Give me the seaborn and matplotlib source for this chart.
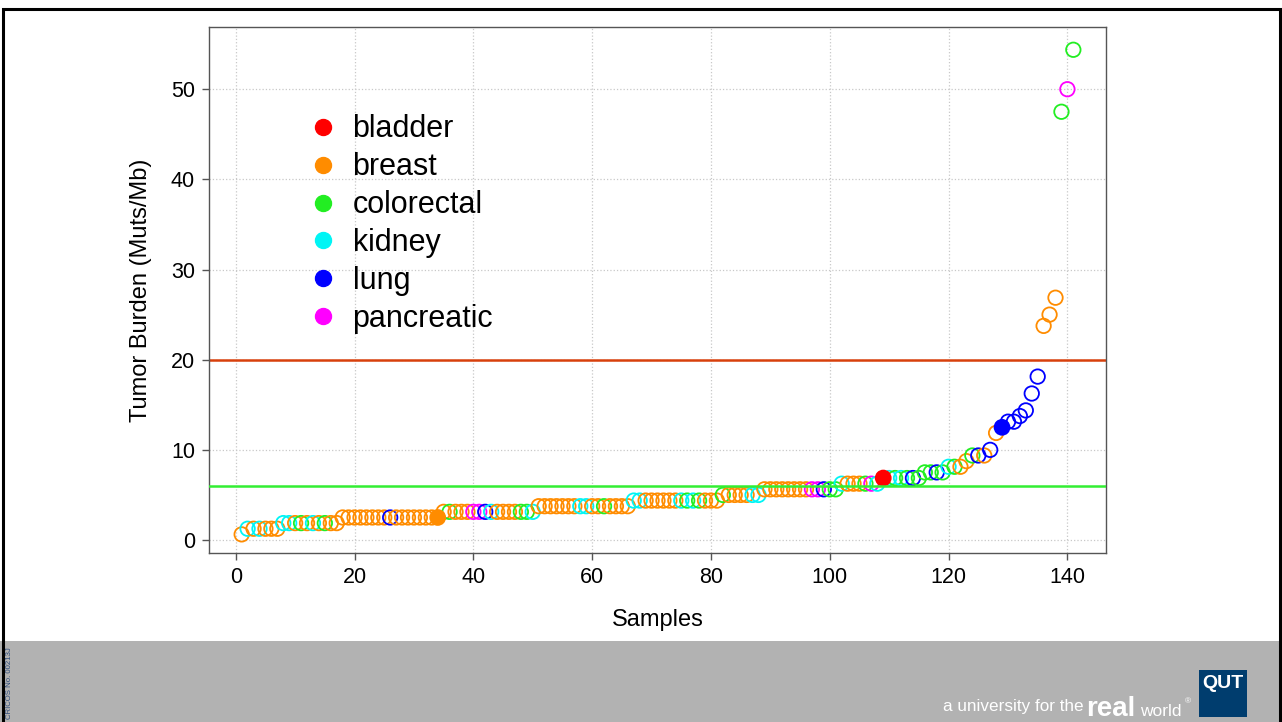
import matplotlib
matplotlib.use('Agg')
import matplotlib.pyplot as plt
import seaborn as sns
import pandas as pd
from matplotlib.lines import Line2D
from matplotlib.patches import Rectangle

# ---------------- data ----------------
samples = list(range(1, 142))
burden = [
    0.625,
    1.25, 1.25, 1.25, 1.25, 1.25, 1.25,
    1.875, 1.875, 1.875, 1.875, 1.875, 1.875, 1.875, 1.875, 1.875, 1.875,
    2.5, 2.5, 2.5, 2.5, 2.5, 2.5, 2.5, 2.5, 2.5, 2.5, 2.5, 2.5, 2.5, 2.5, 2.5, 2.5, 2.5,
    3.125, 3.125, 3.125, 3.125, 3.125, 3.125, 3.125, 3.125, 3.125, 3.125, 3.125, 3.125,
    3.125, 3.125, 3.125, 3.125,
    3.75, 3.75, 3.75, 3.75, 3.75, 3.75, 3.75, 3.75, 3.75, 3.75, 3.75, 3.75, 3.75, 3.75,
    3.75, 3.75,
    4.375, 4.375, 4.375, 4.375, 4.375, 4.375, 4.375, 4.375, 4.375, 4.375, 4.375, 4.375,
    4.375, 4.375, 4.375,
    5.0, 5.0, 5.0, 5.0, 5.0, 5.0, 5.0,
    5.625, 5.625, 5.625, 5.625, 5.625, 5.625, 5.625, 5.625, 5.625, 5.625, 5.625, 5.625, 5.625,
    6.25, 6.25, 6.25, 6.25, 6.25, 6.25, 6.25,
    6.875, 6.875, 6.875, 6.875, 6.875, 6.875, 6.875,
    7.5, 7.5, 7.5, 7.5,
    8.125, 8.125, 8.125,
    8.75,
    9.375, 9.375, 9.375,
    10.0, 11.875, 12.5, 13.125, 13.125, 13.75, 14.375, 16.25, 18.125,
    23.75, 25.0, 26.875, 47.5, 50.0, 54.375,
]
cancer_code = [
    'O',
    'K', 'O', 'K', 'O', 'O', 'O',
    'K', 'K', 'O', 'G', 'O', 'K', 'O', 'G', 'O', 'O',
    'O', 'O', 'O', 'O', 'O', 'O', 'O', 'O', 'L', 'O', 'O', 'O', 'O', 'O', 'O', 'O', 'O',
    'O', 'G', 'O', 'O', 'O', 'P', 'P', 'L', 'K', 'O', 'O', 'O', 'O', 'G', 'G', 'K',
    'O', 'O', 'O', 'O', 'O', 'O', 'O', 'K', 'K', 'O', 'O', 'G', 'O', 'O', 'O', 'O',
    'K', 'K', 'O', 'O', 'O', 'O', 'O', 'O', 'K', 'G', 'K', 'G', 'O', 'O', 'O',
    'G', 'O', 'O', 'O', 'O', 'K', 'K',
    'O', 'O', 'O', 'O', 'O', 'O', 'O', 'O', 'P', 'P', 'L', 'G', 'G',
    'K', 'O', 'O', 'O', 'G', 'P', 'K',
    'B', 'K', 'G', 'K', 'G', 'L', 'G',
    'G', 'G', 'L', 'G',
    'K', 'G', 'O',
    'O',
    'G', 'L', 'O',
    'L', 'O', 'L', 'L', 'L', 'L', 'L', 'L', 'L',
    'O', 'O', 'O', 'G', 'P', 'G',
]
highlighted = [34, 109, 129]
code_names = {'B': 'bladder', 'O': 'breast', 'G': 'colorectal',
              'K': 'kidney', 'L': 'lung', 'P': 'pancreatic'}
categories = ['bladder', 'breast', 'colorectal', 'kidney', 'lung', 'pancreatic']
palette = {'bladder': '#FF0000', 'breast': '#FF8C00', 'colorectal': '#22EE22',
           'kidney': '#00F5F5', 'lung': '#0000FF', 'pancreatic': '#FF00FF'}
x_ticks = [0, 20, 40, 60, 80, 100, 120, 140]
y_ticks = [0, 10, 20, 30, 40, 50]
threshold_high = 20
threshold_low = 6

# ---------------- style ----------------
sns.set_theme(style='white')
plt.rcParams['font.family'] = ['Liberation Sans', 'DejaVu Sans']

W, H = 1282, 722
fig = plt.figure(figsize=(W / 100, H / 100), dpi=100)
fig.patch.set_facecolor('white')

ax = fig.add_axes([209 / W, 1 - 553 / H, (1106 - 209) / W, (553 - 27) / H])

df = pd.DataFrame({'Samples': samples, 'Burden': burden,
                   'Cancer': [code_names[c] for c in cancer_code]})
df['Filled'] = df['Samples'].isin(highlighted)

hollow = df[~df['Filled']]
filled = df[df['Filled']]

sns.scatterplot(data=hollow, x='Samples', y='Burden', hue='Cancer',
                hue_order=categories, palette=palette, s=108, linewidth=1.3,
                legend=False, ax=ax, zorder=3)
coll = ax.collections[-1]
fcs = coll.get_facecolors()
coll.set_edgecolors(fcs)
coll.set_facecolors('none')

sns.scatterplot(data=filled, x='Samples', y='Burden', hue='Cancer',
                hue_order=categories, palette=palette, s=145, linewidth=0,
                legend=False, ax=ax, zorder=4)

ax.axhline(threshold_high, color='#D8400C', lw=1.8, zorder=2)
ax.axhline(threshold_low, color='#33EE33', lw=1.8, zorder=5)

ax.set_xlim(-4.5, 146.5)
ax.set_ylim(-1.44, 56.9)
ax.set_xticks(x_ticks)
ax.set_yticks(y_ticks)
ax.grid(True, linestyle=':', color='#c8c8c8', lw=0.9)
ax.set_axisbelow(True)
for sp in ax.spines.values():
    sp.set_visible(True)
    sp.set_color('#555555')
    sp.set_linewidth(1.0)
ax.tick_params(axis='both', which='major', direction='out', length=5, width=1,
               color='#555555', labelcolor='black', labelsize=15.5,
               left=True, bottom=True, pad=5)
ax.set_xlabel('Samples', fontsize=17, labelpad=15, color='black')
ax.set_ylabel('Tumor Burden (Muts/Mb)', fontsize=17, labelpad=14, color='black')

handles = [Line2D([0], [0], marker='o', linestyle='', markersize=11.5,
                  markerfacecolor=palette[c], markeredgecolor=palette[c])
           for c in categories]
ax.legend(handles, categories, loc='upper left', bbox_to_anchor=(0.110, 0.834),
          frameon=False, fontsize=22, handlelength=1.0, handletextpad=0.47,
          labelspacing=0.26, borderpad=0, borderaxespad=0, labelcolor='black')

# ---------------- slide decorations ----------------
fig.add_artist(Rectangle((0, 0), 1, 1 - 641 / H, transform=fig.transFigure,
                         facecolor='#B2B2B2', edgecolor='none', zorder=0))
fig.add_artist(Rectangle((3 / W, -0.01), (1280 - 3) / W, 1 - 9 / H + 0.01,
                         transform=fig.transFigure, fill=False,
                         edgecolor='black', lw=2.2, zorder=1))
fig.add_artist(Rectangle((1199 / W, 1 - 717 / H), 48 / W, 47 / H,
                         transform=fig.transFigure, facecolor='#003D6E',
                         edgecolor='none', zorder=2))
fig.text(1223 / W, 1 - 684 / H, 'QUT', color='white', fontsize=14,
         fontweight='bold', ha='center', va='center', zorder=3)
fig.text(943 / W, 1 - 711 / H, 'a university for the', color='white',
         fontsize=12.3, ha='left', va='baseline')
fig.text(1086 / W, 1 - 716 / H, 'real', color='white', fontsize=20,
         fontweight='bold', ha='left', va='baseline')
fig.text(1140 / W, 1 - 716 / H, 'world', color='white', fontsize=12.5,
         ha='left', va='baseline')
fig.text(1185 / W, 1 - 703 / H, '®', color='white', fontsize=6,
         ha='left', va='baseline')
fig.text(10 / W, 1 - 683 / H, 'CRICOS No. 00213J', color='#2B4A7A',
         fontsize=5.6, rotation=90, ha='center', va='center')

fig.savefig('out.png', dpi=100, facecolor=fig.get_facecolor())
